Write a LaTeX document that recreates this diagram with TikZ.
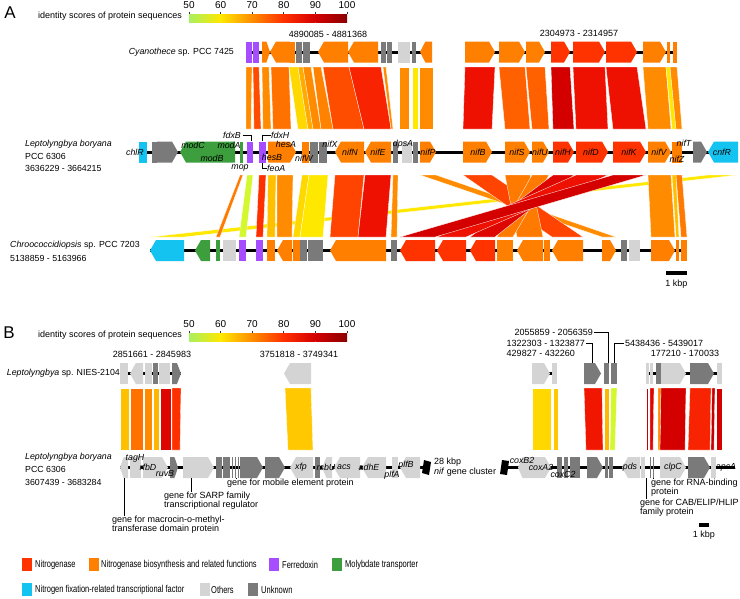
\documentclass[tikz,border=0pt]{standalone}
\usepackage{fontspec}
\setmainfont{Liberation Sans}
\newfontfamily\narrowf[FakeStretch=0.75]{Liberation Sans}
\definecolor{cNit}{HTML}{FF3300}
\definecolor{cBio}{HTML}{FF8000}
\definecolor{cFer}{HTML}{A64DFF}
\definecolor{cMol}{HTML}{3C9E3C}
\definecolor{cTF}{HTML}{14C3F0}
\definecolor{cOth}{HTML}{D4D4D4}
\definecolor{cUnk}{HTML}{7A7A7A}
\definecolor{i50}{HTML}{A8F060}
\definecolor{i55}{HTML}{D4F830}
\definecolor{i60}{HTML}{FFE800}
\definecolor{i65}{HTML}{FFC000}
\definecolor{i70}{HTML}{FF8C00}
\definecolor{i75}{HTML}{FF6000}
\definecolor{i80}{HTML}{FF3000}
\definecolor{i85}{HTML}{EE1000}
\definecolor{i90}{HTML}{D40000}
\definecolor{i95}{HTML}{B00000}
\definecolor{i100}{HTML}{8C0000}
\colorlet{i62}{i60!60!i65}
\colorlet{i64}{i60!20!i65}
\colorlet{i66}{i65!80!i70}
\colorlet{i67}{i65!60!i70}
\colorlet{i71}{i70!80!i75}
\colorlet{i72}{i70!60!i75}
\colorlet{i73}{i70!40!i75}
\colorlet{i77}{i75!60!i80}
\colorlet{i78}{i75!40!i80}
\colorlet{i82}{i80!60!i85}
\colorlet{i84}{i80!20!i85}
\colorlet{i88}{i85!40!i90}
\colorlet{i92}{i90!60!i95}
% genes: x1 x2 y colour
\newcommand\gR[4]{\fill[#4] (#1,{#3-10.5}) -- ({#2-min(6,0.45*(#2-#1))},{#3-10.5}) -- (#2,#3) -- ({#2-min(6,0.45*(#2-#1))},{#3+10.5}) -- (#1,{#3+10.5}) -- cycle;}
\newcommand\gL[4]{\fill[#4] (#2,{#3-10.5}) -- ({#1+min(6,0.45*(#2-#1))},{#3-10.5}) -- (#1,#3) -- ({#1+min(6,0.45*(#2-#1))},{#3+10.5}) -- (#2,{#3+10.5}) -- cycle;}
\newcommand\gB[4]{\fill[#4] (#1,{#3-10.5}) rectangle (#2,{#3+10.5});}
% bands: xt1 xt2 xb1 xb2 yt yb colour
\newcommand\bd[7]{\filldraw[fill=#7,draw=white,line width=0.3pt] (#1,#5) -- (#2,#5) -- (#4,#6) -- (#3,#6) -- cycle;}
\newcommand\cbar[3]{% x0 ytop ylabels
 \shade[left color=i50,right color=i60] (#1,#2) rectangle ({#1+31.6},{#2+8});
 \shade[left color=i60,right color=i70] ({#1+31.6},#2) rectangle ({#1+63.2},{#2+8});
 \shade[left color=i70,right color=i80] ({#1+63.2},#2) rectangle ({#1+94.8},{#2+8});
 \shade[left color=i80,right color=i90] ({#1+94.8},#2) rectangle ({#1+126.4},{#2+8});
 \shade[left color=i90,right color=i100] ({#1+126.4},#2) rectangle ({#1+158},{#2+8});
 \foreach \k/\v in {0/50,1/60,2/70,3/80,4/90,5/100}{
   \draw[line width=0.8pt,black!80] ({#1+31.6*\k},{#2-2.5}) -- ({#1+31.6*\k},#2);
   \node[lab, font=\fontsize{10}{11}\selectfont] at ({#1+31.6*\k},#3) {\v};}
}
\tikzset{
 lab/.style={font=\fontsize{9}{10.5}\selectfont, inner sep=0pt},
 sp/.style={font=\fontsize{8.8}{10.5}\selectfont, inner sep=0pt},
 gl/.style={font=\fontsize{8.8}{9}\selectfont\itshape, inner sep=0pt},
 leg/.style={font=\narrowf\fontsize{10}{11}\selectfont, inner sep=0pt, anchor=west},
 ml/.style={lab, align=left, anchor=north west, font=\fontsize{9}{8.6}\selectfont},
 bb/.style={line width=3pt, black},
 ld/.style={line width=0.9pt, black}
}
\begin{document}
\begin{tikzpicture}[x=1pt,y=-1pt]
\useasboundingbox (0,0) rectangle (740,598);
% ================= PANEL A =================
\node[font=\fontsize{17}{17}\selectfont, inner sep=0pt] (A) at (10,13) {A};
\node[lab, anchor=west] (idA) at (38,16) {identity scores of protein sequences};
\cbar{189}{14}{5}
% ---- Cyanothece
\node[sp, anchor=east] (cyan) at (234,52) {\textit{Cyanothece} sp. PCC 7425};
\node[lab] (cyc1) at (328,34) {4890085 - 4881368};
\node[lab] (cyc2) at (579,33) {2304973 - 2314957};
% top band A
\def\yt{67}\def\yb{129}
\bd{246}{252}{246}{251}{\yt}{\yb}{i70}
\bd{253}{259}{254}{261}{\yt}{\yb}{i77}
\bd{262}{269}{263}{271}{\yt}{\yb}{i70}
\bd{271}{289}{273}{291}{\yt}{\yb}{i73}
\bd{289}{298}{298}{308}{\yt}{\yb}{i62}
\bd{298}{303}{308}{313}{\yt}{\yb}{i67}
\bd{303}{311}{313}{321}{\yt}{\yb}{i70}
\bd{313}{321}{321}{333}{\yt}{\yb}{i71}
\bd{323}{349}{333}{364}{\yt}{\yb}{i77}
\bd{349}{381}{364}{391}{\yt}{\yb}{i82}
\bd{383}{386}{391}{393}{\yt}{\yb}{i70}
\bd{399}{409}{399}{409}{\yt}{\yb}{i70}
\bd{412}{418}{412}{418}{\yt}{\yb}{i60}
\bd{419}{433}{419}{433}{\yt}{\yb}{i70}
\bd{465}{495}{463}{492}{\yt}{\yb}{i85}
\bd{499}{525}{505}{530}{\yt}{\yb}{i75}
\bd{526}{545}{532}{549}{\yt}{\yb}{i75}
\bd{551}{570}{553}{574}{\yt}{\yb}{i90}
\bd{573}{605}{576}{608}{\yt}{\yb}{i85}
\bd{606}{637}{613}{646}{\yt}{\yb}{i85}
\bd{643}{666}{648}{671}{\yt}{\yb}{i70}
\bd{666}{670}{672}{676}{\yt}{\yb}{i60}
\bd{670}{677}{676}{682}{\yt}{\yb}{i70}
% Cyanothece genes
\draw[bb] (246,52) -- (432,52);
\draw[bb] (465,52) -- (677,52);
\gB{246}{252}{52}{cFer}
\gB{253}{259}{52}{cFer}
\gR{262}{270}{52}{cBio}
\gL{270}{290}{52}{cBio}
\gB{290}{295}{52}{cBio}
\gB{296}{302}{52}{cUnk}
\gB{303}{310}{52}{cUnk}
\gL{318}{348}{52}{cBio}
\gL{348}{378}{52}{cBio}
\gB{381}{386}{52}{cUnk}
\gB{387}{392}{52}{cUnk}
\gB{398}{410}{52}{cOth}
\gB{412}{416}{52}{cUnk}
\gL{420}{432}{52}{cBio}
\gR{465}{495}{52}{cBio}
\gR{499}{525}{52}{cBio}
\gR{526}{545}{52}{cBio}
\gR{551}{570}{52}{cNit}
\gR{573}{605}{52}{cNit}
\gR{606}{637}{52}{cNit}
\gR{643}{666}{52}{cBio}
\gB{667}{670}{52}{cBio}
\gB{673}{677}{52}{cBio}
% ---- Leptolyngbya A
\node[sp, anchor=west] (lbA1) at (25,144) {\textit{Leptolyngbya boryana}};
\node[sp, anchor=west] (lbA2) at (25,156) {PCC 6306};
\node[sp, anchor=west] (lbA3) at (25,168) {3636229 - 3664215};
% lower band A
\def\yt{175}\def\yb{237}
\bd{708}{738}{150}{184}{\yt}{\yb}{i60}
\bd{420}{436}{602}{616}{\yt}{\yb}{i70}
\bd{240}{243}{216}{220}{\yt}{\yb}{i72}
\bd{247}{253}{239}{246}{\yt}{\yb}{i55}
\bd{259}{266}{256}{263}{\yt}{\yb}{i80}
\bd{268}{276}{267}{275}{\yt}{\yb}{i65}
\bd{277}{293}{277}{292}{\yt}{\yb}{i70}
\bd{302}{309}{293}{300}{\yt}{\yb}{i62}
\bd{309}{328}{300}{323}{\yt}{\yb}{i60}
\bd{335}{364}{330}{358}{\yt}{\yb}{i78}
\bd{365}{391}{358}{386}{\yt}{\yb}{i85}
\bd{393}{398}{391}{397}{\yt}{\yb}{i70}
\bd{463}{492}{552}{583}{\yt}{\yb}{i78}
\bd{505}{530}{517}{543}{\yt}{\yb}{i72}
\bd{532}{549}{497}{513}{\yt}{\yb}{i72}
\bd{553}{574}{470}{495}{\yt}{\yb}{i88}
\bd{576}{608}{437}{466}{\yt}{\yb}{i85}
\bd{613}{646}{400}{435}{\yt}{\yb}{i90}
\bd{648}{671}{651}{675}{\yt}{\yb}{i70}
\bd{672}{676}{676}{679}{\yt}{\yb}{i65}
\bd{676}{682}{681}{687}{\yt}{\yb}{i72}
% Lepto A genes
\draw[bb] (139,152) -- (738,152);
\gB{139}{147}{152}{cTF}
\gB{152}{157}{152}{cUnk}
\gR{157}{178}{152}{cUnk}
\gL{180}{235}{152}{cMol}
\gB{240}{243}{152}{cMol}
\gB{247}{253}{152}{cFer}
\gB{259}{266}{152}{cFer}
\gR{268}{296}{152}{cBio}
\gB{302}{309}{152}{cBio}
\gB{309.5}{318}{152}{cUnk}
\gB{318.5}{327}{152}{cUnk}
\gL{335}{364}{152}{cBio}
\gL{365}{391}{152}{cBio}
\gB{393}{398}{152}{cUnk}
\gB{402}{412}{152}{cOth}
\gB{413}{418}{152}{cUnk}
\gR{420}{436}{152}{cBio}
\gR{463}{492}{152}{cBio}
\gR{505}{530}{152}{cBio}
\gR{532}{549}{152}{cBio}
\gR{553}{574}{152}{cNit}
\gR{576}{608}{152}{cNit}
\gR{613}{646}{152}{cNit}
\gR{648}{671}{152}{cBio}
\gB{672}{682}{152}{cBio}
\gR{693}{707}{152}{cUnk}
\gL{708}{738}{152}{cTF}
% gene labels A
\node[gl] (chlR) at (135,152) {chlR};
\node[gl] (modC) at (193,145) {modC};
\node[gl] (modA) at (229,145) {modA};
\node[gl] (modB) at (212,158) {modB};
\node[gl, anchor=east] (fdxB) at (241,135) {fdxB};
\draw[ld] (fdxB.east) ++(1.5,0) -- (251,135) -- (251,141);
\node[gl] (mop) at (240,168) {mop};
\node[gl, anchor=west] (fdxH) at (271,135) {fdxH};
\draw[ld] (262,141) -- (262,135) -- (fdxH.west);
\node[gl] (hesA) at (286,144) {hesA};
\node[gl] (hesB) at (272,157) {hesB};
\node[gl, anchor=west] (feoA) at (267,168) {feoA};
\draw[ld] (262,163) -- (262,168) -- (feoA.west);
\node[gl] (nifW) at (304,158) {nifW};
\node[gl] (nifX) at (330,144) {nifX};
\node[gl] (nifN) at (350,152) {nifN};
\node[gl] (nifE) at (378,152) {nifE};
\node[gl] (dpsA) at (403,144) {dpsA};
\node[gl] (nifP) at (428,152) {nifP};
\node[gl] (nifB) at (478,152) {nifB};
\node[gl] (nifS) at (517,152) {nifS};
\node[gl] (nifU) at (540,152) {nifU};
\node[gl] (nifH) at (563,152) {nifH};
\node[gl] (nifD) at (591,152) {nifD};
\node[gl] (nifK) at (629,152) {nifK};
\node[gl] (nifV) at (659,152) {nifV};
\node[gl] (nifT) at (684,143) {nifT};
\node[gl] (nifZ) at (677,159) {nifZ};
\node[gl] (cnfR) at (722,152) {cnfR};
% ---- Chroococcidiopsis
\node[sp, anchor=west] (chr1) at (10,245) {\textit{Chroococcidiopsis} sp. PCC 7203};
\node[sp, anchor=west] (chr2) at (10,258) {5138859 - 5163966};
\draw[bb] (150,250.5) -- (687,250.5);
\gL{150}{184}{250.5}{cTF}
\gL{195}{210}{250.5}{cMol}
\gB{216}{220}{250.5}{cMol}
\gB{223}{236}{250.5}{cOth}
\gB{239}{246}{250.5}{cFer}
\gB{256}{263}{250.5}{cFer}
\gB{267}{275}{250.5}{cBio}
\gL{277}{292}{250.5}{cBio}
\gB{293}{300}{250.5}{cBio}
\gB{300}{307}{250.5}{cUnk}
\gB{308}{323}{250.5}{cUnk}
\gL{330}{386}{250.5}{cBio}
\gB{391}{397}{250.5}{cUnk}
\gL{400}{435}{250.5}{cNit}
\gL{437}{466}{250.5}{cNit}
\gL{470}{495}{250.5}{cNit}
\gB{497}{513}{250.5}{cBio}
\gL{517}{543}{250.5}{cBio}
\gB{544}{550}{250.5}{cBio}
\gL{552}{583}{250.5}{cBio}
\gR{602}{616}{250.5}{cBio}
\gB{621}{627}{250.5}{cUnk}
\gB{629}{640}{250.5}{cOth}
\gR{651}{675}{250.5}{cBio}
\gB{676}{679}{250.5}{cBio}
\gB{681}{687}{250.5}{cBio}
\fill (666,271) rectangle (687,275);
\node[lab] (kbpA) at (676.5,284) {1 kbp};
% ================= PANEL B =================
\node[font=\fontsize{17}{17}\selectfont, inner sep=0pt] (B) at (9,333) {B};
\node[lab, anchor=west] (idB) at (38,335) {identity scores of protein sequences};
\cbar{189}{333}{324}
\node[sp, anchor=east] (nies) at (120,373) {\textit{Leptolyngbya} sp. NIES-2104};
\node[lab] (nc1) at (152,354) {2851661 - 2845983};
\node[lab] (nc2) at (299,354) {3751818 - 3749341};
\node[lab, anchor=east] (nc3) at (593,332) {2055859 - 2056359};
\node[lab, anchor=east] (nc4) at (585,343) {1322303 - 1323877};
\node[lab, anchor=east] (nc5) at (575,353) {429827 - 432260};
\node[lab, anchor=west] (nc6) at (625,343) {5438436 - 5439017};
\node[lab] (nc7) at (685,353) {177210 - 170033};
\draw[ld] (nc3.east) ++(1,0) -- (608,332) -- (608,363);
\draw[ld] (nc4.east) ++(1,0) -- (592,343) -- (592,363);
\draw[ld] (nc6.west) ++(-1.5,0) -- (614,343) -- (614,363);
% bands B
\def\yt{388}\def\yb{450}
\bd{120}{129}{120}{129}{\yt}{\yb}{i65}
\bd{130}{143}{130}{143}{\yt}{\yb}{i73}
\bd{144}{152}{144}{152}{\yt}{\yb}{i70}
\bd{153}{159}{153}{159}{\yt}{\yb}{i66}
\bd{160}{171}{160}{171}{\yt}{\yb}{i88}
\bd{172}{181}{172}{180}{\yt}{\yb}{i80}
\bd{285}{311}{288}{313}{\yt}{\yb}{i64}
\bd{532}{551}{532}{551}{\yt}{\yb}{i62}
\bd{553}{558}{553}{558}{\yt}{\yb}{i64}
\bd{584}{602}{586}{603}{\yt}{\yb}{i84}
\bd{604}{609}{604}{609}{\yt}{\yb}{i66}
\bd{611}{617}{610}{615}{\yt}{\yb}{i55}
\bd{646}{648}{646}{648}{\yt}{\yb}{i92}
\bd{650}{654}{650}{653}{\yt}{\yb}{i88}
\bd{658}{661}{658}{660}{\yt}{\yb}{i70}
\bd{661}{686}{660}{685}{\yt}{\yb}{i90}
\bd{690}{711}{688}{710}{\yt}{\yb}{i82}
\bd{712}{715}{711}{714}{\yt}{\yb}{i92}
\bd{716}{722}{716}{722}{\yt}{\yb}{i90}
% NIES genes
\draw[line width=2.5pt] (120,373.5) -- (181,373.5);
\draw[line width=2.5pt] (532,373.5) -- (557,373.5);
\draw[line width=2.5pt] (646,373.5) -- (722,373.5);
\gB{120}{128}{373.5}{cOth}
\gL{130}{143}{373.5}{cOth}
\gB{145}{152}{373.5}{cOth}
\gB{153}{158}{373.5}{cUnk}
\gB{159}{170}{373.5}{cOth}
\gR{172}{181}{373.5}{cUnk}
\gL{284}{311}{373.5}{cOth}
\gR{532}{550}{373.5}{cOth}
\gB{552}{557}{373.5}{cOth}
\gR{584}{601}{373.5}{cUnk}
\gB{604}{609}{373.5}{cUnk}
\gB{611}{617}{373.5}{cUnk}
\gB{646}{649}{373.5}{cOth}
\gB{650}{653}{373.5}{cOth}
\gB{656}{661}{373.5}{cUnk}
\gR{661}{686}{373.5}{cOth}
\gR{690}{714}{373.5}{cUnk}
\gB{717}{722}{373.5}{cOth}
% Lepto B
\node[sp, anchor=west] (lbB1) at (25,457) {\textit{Leptolyngbya boryana}};
\node[sp, anchor=west] (lbB2) at (25,469) {PCC 6306};
\node[sp, anchor=west] (lbB3) at (25,482) {3607439 - 3683284};
\draw[line width=2.5pt] (120,467.5) -- (427,467.5);
\draw[line width=2.5pt] (503,467.5) -- (735,467.5);
\fill (424,460) -- (431,462) -- (429,475) -- (422,473) -- cycle;
\fill (502,460) -- (509,461) -- (507,475) -- (500,474) -- cycle;
\gL{120}{128}{467.5}{cOth}
\gB{130}{141}{467.5}{cOth}
\gR{143}{168}{467.5}{cOth}
\gR{170}{178}{467.5}{cUnk}
\gR{183}{214}{467.5}{cOth}
\gB{216}{222}{467.5}{cUnk}
\gB{223}{230}{467.5}{cUnk}
\gB{232}{233}{467.5}{cUnk}
\gB{235}{236}{467.5}{cUnk}
\gB{238}{239}{467.5}{cUnk}
\gR{240}{263}{467.5}{cUnk}
\gR{265}{285}{467.5}{cUnk}
\gL{290}{313}{467.5}{cOth}
\gB{315}{320}{467.5}{cUnk}
\gL{322}{332}{467.5}{cOth}
\gL{334}{360}{467.5}{cOth}
\gL{362}{386}{467.5}{cOth}
\gB{392}{398}{467.5}{cOth}
\gL{400}{420}{467.5}{cOth}
\gL{518}{528}{467.5}{cOth}
\gR{528}{551}{467.5}{cOth}
\gB{557}{562}{467.5}{cUnk}
\gB{564}{568}{467.5}{cUnk}
\gB{570}{580}{467.5}{cUnk}
\gR{587}{603}{467.5}{cUnk}
\gB{605}{608}{467.5}{cUnk}
\gB{609}{613}{467.5}{cUnk}
\gL{622}{640}{467.5}{cOth}
\gB{640.5}{645}{467.5}{cOth}
\gB{650}{651}{467.5}{cUnk}
\gB{653}{654}{467.5}{cUnk}
\gR{660}{686}{467.5}{cOth}
\gR{688}{710}{467.5}{cUnk}
\gB{711}{716}{467.5}{cOth}
% labels B
\node[gl] (tagH) at (135,458) {tagH};
\node[gl] (rfbD) at (148,467) {rfbD};
\node[gl] (ruvB) at (165,474) {ruvB};
\node[gl] (xfp) at (301,467) {xfp};
\node[gl] (rsbU) at (326,467) {rsbU};
\node[gl] (acs) at (344,467) {acs};
\node[gl] (adhE) at (369,467) {adhE};
\node[gl] (plfA) at (392,475) {plfA};
\node[gl] (plfB) at (406,465) {plfB};
\node[lab, anchor=west] (kb28) at (434,462) {28 kbp};
\node[lab, anchor=west] (nifc) at (434,472) {\textit{nif} gene cluster};
\node[gl] (coxB2) at (522,460) {coxB2};
\node[gl] (coxA2) at (541,467) {coxA2};
\node[gl] (coxC2) at (563,474) {coxC2};
\node[gl] (pds) at (630,467) {pds};
\node[gl] (clpC) at (673,467) {clpC};
\node[gl] (apcA) at (726,467) {apcA};
% leaders
\node[ml] (t1) at (112,516) {gene for macrocin-o-methyl-\\transferase domain protein};
\draw[ld] (124,478) -- (t1.north west -| 124,0);
\node[ml] (t2) at (164,492) {gene for SARP family\\transcriptional regulator};
\draw[ld] (191,478) -- (t2.north west -| 191,0);
\node[ml] (t3) at (227,479) {gene for mobile element protein};
\draw[ld] (236,478) -- (t3.north west -| 236,0);
\node[ml] (t4) at (651,479) {gene for RNA-binding\\protein};
\draw[ld] (653,478) -- (t4.north west -| 653,0);
\node[ml] (t5) at (640,499) {gene for CAB/ELIP/HLIP\\family protein};
\draw[ld] (646,478) -- (t5.north west -| 646,0);
\fill (699,523) rectangle (709,527);
\node[lab] (kbpB) at (704,535) {1 kbp};
% ================= LEGEND =================
\fill[cNit] (22,558) rectangle (32,571); \node[leg] (l1) at (35,564.5) {Nitrogenase};
\fill[cBio] (89,558) rectangle (99,571); \node[leg] (l2) at (101,564.5) {Nitrogenase biosynthesis and related functions};
\fill[cFer] (269,558) rectangle (279,571); \node[leg] (l3) at (282,564.5) {Ferredoxin};
\fill[cMol] (332,558) rectangle (342,571); \node[leg] (l4) at (345,564.5) {Molybdate transporter};
\fill[cTF] (22,583) rectangle (32,596); \node[leg] (l5) at (35,589.5) {Nitrogen fixation-related transcriptional factor};
\fill[cOth] (200,583) rectangle (210,596); \node[leg] (l6) at (211,589.5) {Others};
\fill[cUnk] (248,583) rectangle (258,596); \node[leg] (l7) at (261,589.5) {Unknown};
\end{tikzpicture}
\end{document}
